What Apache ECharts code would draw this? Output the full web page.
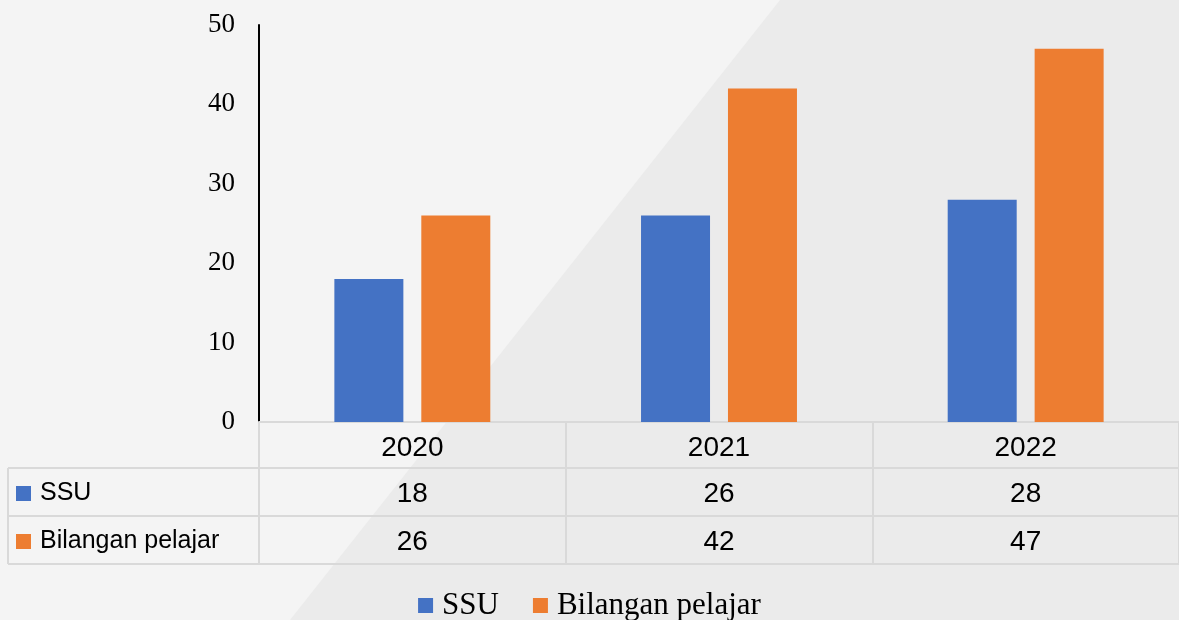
<!DOCTYPE html>
<html>
<head>
<meta charset="utf-8">
<style>
  html, body { margin: 0; padding: 0; background: #f4f4f4; }
  #chart { width: 1179px; height: 620px; }
</style>
<script src="https://cdn.jsdelivr.net/npm/echarts@6/dist/echarts.min.js"></script>
</head>
<body>
<div id="chart"></div>
<script>
const years = ['2020', '2021', '2022']
const seriesNames = ['SSU', 'Bilangan pelajar']
const ssuValues = [18, 26, 28]
const pelajarValues = [26, 42, 47]
const yTicks = { min: 0, max: 50, interval: 10 }

const colors = ['#4472c4', '#ed7d31']
const lineColor = '#d9d9d9'
const serif = '"Liberation Serif", "Times New Roman", serif'
const sans = '"Liberation Sans", Arial, sans-serif'

const chart = echarts.init(document.getElementById('chart'), null, { renderer: 'canvas' })

// rows of the data table, under the x axis
const rows = [ssuValues, pelajarValues]
const rowH = 48
const tableTop = 422

const cellLabel = { margin: 12, fontFamily: sans, fontSize: 28, color: '#000' }

const valueAxes = rows.map((vals, i) => ({
  type: 'category',
  position: 'bottom',
  offset: rowH * (i + 1) - 2,
  data: vals.map(String),
  axisLine: { show: false },
  axisTick: { show: false },
  axisLabel: cellLabel
}))

const hLines = [0, 1, 2, 3].map(i => ({
  type: 'line',
  z: -1,
  shape: {
    x1: i === 0 ? 259 : 8, y1: tableTop + (i === 0 ? 0 : 46 + (i - 1) * rowH),
    x2: 1179, y2: tableTop + (i === 0 ? 0 : 46 + (i - 1) * rowH)
  },
  style: { stroke: lineColor, lineWidth: 2 }
}))

const rowLabels = seriesNames.map((name, i) => ({
  type: 'text',
  left: 16,
  top: tableTop + 46 + i * rowH + 13,
  style: {
    text: '{sq|}{t|' + name + '}',
    font: '25px ' + sans,
    fill: '#000',
    rich: {
      sq: { width: 15, height: 15, backgroundColor: colors[i] },
      t: { font: '25px ' + sans, fill: '#000', padding: [0, 0, 0, 9] }
    }
  }
}))

chart.setOption({
  backgroundColor: '#f4f4f4',
  animation: false,
  graphic: [
    {
      type: 'polygon',
      z: -10,
      silent: true,
      shape: { points: [[780, 0], [1179, 0], [1179, 620], [290, 620]] },
      style: { fill: '#ebebeb' }
    },
    ...hLines,
    {
      type: 'line',
      z: -1,
      shape: { x1: 8, y1: tableTop + 46, x2: 8, y2: tableTop + 46 + 2 * rowH },
      style: { stroke: lineColor, lineWidth: 2 }
    },
    ...rowLabels
  ],
  legend: {
    data: seriesNames,
    top: 585,
    left: 'center',
    itemWidth: 15,
    itemHeight: 15,
    itemGap: 34,
    icon: 'rect',
    textStyle: { fontFamily: serif, fontSize: 31, color: '#000', padding: [0, 0, 0, 4] }
  },
  grid: { left: 259, right: 0, top: 25, bottom: 620 - tableTop },
  xAxis: [
    {
      type: 'category',
      data: years,
      axisLine: { show: true, lineStyle: { color: lineColor, width: 2 } },
      axisTick: { show: true, length: 142, lineStyle: { color: lineColor, width: 2 } },
      axisLabel: cellLabel
    },
    ...valueAxes
  ],
  yAxis: {
    type: 'value',
    min: yTicks.min,
    max: yTicks.max,
    interval: yTicks.interval,
    axisLine: { show: true, lineStyle: { color: '#000', width: 2 } },
    axisTick: { show: false },
    splitLine: { show: false },
    axisLabel: { margin: 24, fontFamily: serif, fontSize: 27, color: '#000' }
  },
  series: [
    {
      name: seriesNames[0],
      type: 'bar',
      data: ssuValues,
      barWidth: 69,
      barGap: '26%',
      itemStyle: { color: colors[0] }
    },
    {
      name: seriesNames[1],
      type: 'bar',
      data: pelajarValues,
      barWidth: 69,
      itemStyle: { color: colors[1] }
    }
  ]
})
</script>
</body>
</html>
